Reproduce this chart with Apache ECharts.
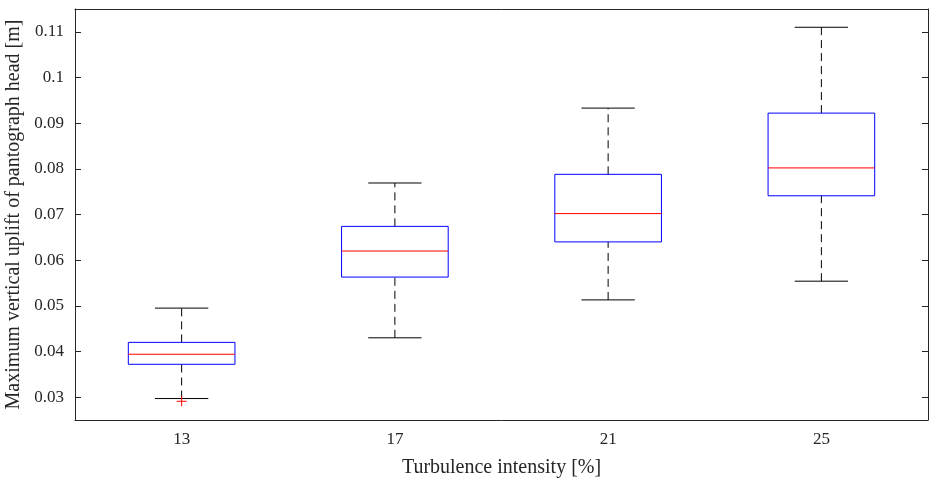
<!DOCTYPE html>
<html>
<head>
<meta charset="utf-8">
<script src="https://cdn.jsdelivr.net/npm/echarts@6/dist/echarts.min.js"></script>
<style>
  html, body { margin: 0; padding: 0; background: #fff; }
  #holder { width: 929px; height: 479px; }
</style>
</head>
<body>
<div id="holder"></div>
<script>
// categories (turbulence intensity, %)
var categories = ['13', '17', '21', '25']
// [lower whisker, Q1, median, Q3, upper whisker]
var lowWhisker = [0.0297, 0.0430, 0.0513, 0.0554]
var q1 = [0.0372, 0.0563, 0.0640, 0.0741]
var median = [0.0394, 0.0620, 0.0702, 0.0802]
var q3 = [0.0420, 0.0674, 0.0788, 0.0922]
var highWhisker = [0.0495, 0.0769, 0.0933, 0.1110]
// outliers: [category index, value]
var outliers = [[0, 0.0291]]
var yTicks = [0.03, 0.04, 0.05, 0.06, 0.07, 0.08, 0.09, 0.1, 0.11]

var font = "'Times New Roman', 'Liberation Serif', serif"
var ink = '#262626'

var boxData = categories.map(function (c, i) {
  return [i, lowWhisker[i], q1[i], median[i], q3[i], highWhisker[i]]
})

function renderBox(params, api) {
  var i = api.value(0)
  var lo = api.coord([i, api.value(1)])
  var b1 = api.coord([i, api.value(2)])
  var md = api.coord([i, api.value(3)])
  var b3 = api.coord([i, api.value(4)])
  var hi = api.coord([i, api.value(5)])
  var half = api.size([1, 0])[0] * 0.25
  var cap = half / 2
  var x = lo[0]
  var dash = { stroke: '#000', lineWidth: 1, lineDash: [8, 5] }
  var solid = { stroke: '#000', lineWidth: 1 }
  return {
    type: 'group',
    children: [
      { type: 'line', shape: { x1: x, y1: b3[1], x2: x, y2: hi[1] }, style: dash },
      { type: 'line', shape: { x1: x, y1: lo[1], x2: x, y2: b1[1] }, style: dash },
      { type: 'line', shape: { x1: x - cap, y1: hi[1], x2: x + cap, y2: hi[1] }, style: solid },
      { type: 'line', shape: { x1: x - cap, y1: lo[1], x2: x + cap, y2: lo[1] }, style: solid },
      { type: 'rect', shape: { x: x - half, y: b3[1], width: half * 2, height: b1[1] - b3[1] },
        style: { fill: 'none', stroke: '#0000ff', lineWidth: 1 } },
      { type: 'line', shape: { x1: x - half, y1: md[1], x2: x + half, y2: md[1] },
        style: { stroke: '#ff0000', lineWidth: 1 } }
    ]
  }
}

function renderPlus(params, api) {
  var p = api.coord([api.value(0), api.value(1)])
  var s = 5
  var st = { stroke: '#ff0000', lineWidth: 1 }
  return {
    type: 'group',
    children: [
      { type: 'line', shape: { x1: p[0] - s, y1: p[1], x2: p[0] + s, y2: p[1] }, style: st },
      { type: 'line', shape: { x1: p[0], y1: p[1] - s, x2: p[0], y2: p[1] + s }, style: st }
    ]
  }
}

var myChart = echarts.init(document.getElementById('holder'))

var option = {
  animation: false,
  grid: { left: 75, right: 1, top: 9, bottom: 59, outerBoundsMode: 'none', containLabel: false },
  xAxis: [
    {
      type: 'category',
      data: categories,
      boundaryGap: true,
      name: 'Turbulence intensity [%]',
      nameLocation: 'middle',
      nameGap: 38,
      nameTextStyle: { fontFamily: font, fontSize: 20, color: ink },
      axisLine: { lineStyle: { color: ink, width: 1 } },
      axisTick: { inside: true, length: 6, alignWithLabel: true, lineStyle: { color: ink } },
      axisLabel: { fontFamily: font, fontSize: 17, color: ink, margin: 11 },
      splitLine: { show: false }
    },
    {
      type: 'category',
      data: categories,
      position: 'top',
      boundaryGap: true,
      axisLine: { lineStyle: { color: ink, width: 1 } },
      axisTick: { inside: true, length: 6, alignWithLabel: true, lineStyle: { color: ink } },
      axisLabel: { show: false },
      splitLine: { show: false }
    }
  ],
  yAxis: [
    {
      type: 'value',
      min: 0.025,
      max: 0.115,
      name: 'Maximum vertical uplift of pantograph head [m]',
      nameLocation: 'middle',
      nameGap: 47,
      nameTextStyle: { fontFamily: font, fontSize: 20, color: ink },
      axisLine: { show: true, lineStyle: { color: ink, width: 1 } },
      axisTick: { show: true, inside: true, length: 6, customValues: yTicks, lineStyle: { color: ink } },
      axisLabel: {
        fontFamily: font, fontSize: 17, color: ink, margin: 11,
        customValues: yTicks,
        formatter: function (v) { return String(parseFloat(v.toFixed(3))) }
      },
      splitLine: { show: false }
    },
    {
      type: 'value',
      min: 0.025,
      max: 0.115,
      position: 'right',
      axisLine: { show: true, lineStyle: { color: ink, width: 1 } },
      axisTick: { show: true, inside: true, length: 6, customValues: yTicks, lineStyle: { color: ink } },
      axisLabel: { show: false },
      splitLine: { show: false }
    }
  ],
  series: [
    {
      type: 'custom',
      renderItem: renderBox,
      data: boxData,
      encode: { x: 0, y: [1, 2, 3, 4, 5] },
      silent: true
    },
    {
      type: 'custom',
      renderItem: renderPlus,
      data: outliers,
      encode: { x: 0, y: 1 },
      silent: true
    }
  ]
}

myChart.setOption(option)
</script>
</body>
</html>
